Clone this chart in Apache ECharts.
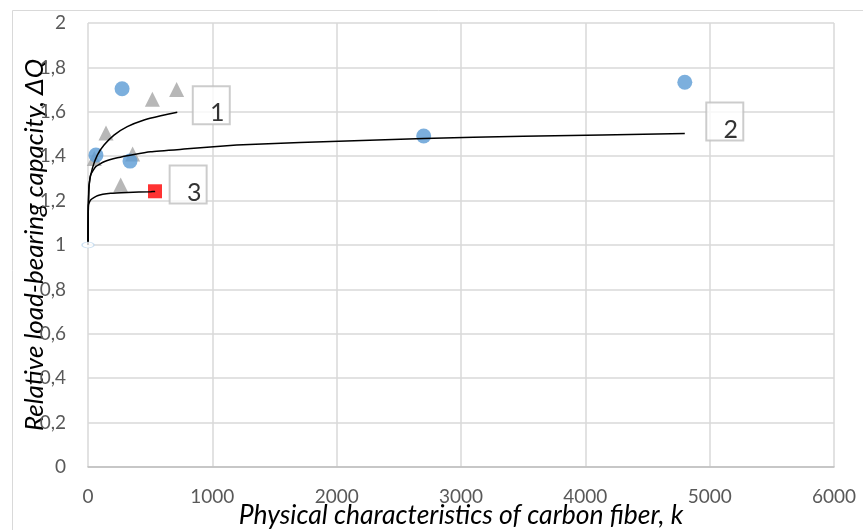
<!DOCTYPE html>
<html><head><meta charset="utf-8">
<script src="https://cdn.jsdelivr.net/npm/echarts@6/dist/echarts.min.js"></script>
<style>html,body{margin:0;padding:0;background:#fff}#c{width:863px;height:530px}</style>
</head><body><div id="c"></div>
<script>
// Data
const xTicks = [0, 1000, 2000, 3000, 4000, 5000, 6000];
const yTicks = [0, 0.2, 0.4, 0.6, 0.8, 1, 1.2, 1.4, 1.6, 1.8, 2];
const blueCircles = [[64, 1.405], [274, 1.704], [338, 1.378], [2700, 1.491], [4800, 1.733]];
const grayTriangles = [[51, 1.39], [145, 1.505], [263, 1.27], [359, 1.41], [518, 1.656], [713, 1.70]];
const redSquares = [[539, 1.242]];
const originPoint = [[0, 1]];
const curve1 = [[0, 1], [1, 1.1], [3, 1.18], [8, 1.27], [35, 1.345], [75, 1.405], [129, 1.45], [209, 1.495], [316, 1.533], [451, 1.563], [585, 1.582], [718, 1.598]];
const curve2 = [[0, 1], [1, 1.1], [3, 1.18], [10, 1.27], [21, 1.315], [62, 1.353], [129, 1.375], [236, 1.393], [370, 1.408], [504, 1.42], [772, 1.432], [1196, 1.45], [1705, 1.462], [2700, 1.48], [3500, 1.49], [4800, 1.502]];
const curve3 = [[0, 1], [1, 1.1], [3, 1.18], [21, 1.203], [75, 1.222], [182, 1.233], [316, 1.237], [504, 1.24], [540, 1.241]];
const curveLabels = ['1', '2', '3'];
const xTitle = 'Physical characteristics of carbon fiber, k';
const yTitle = 'Relative load-bearing capacity, ΔQ';

const chart = echarts.init(document.getElementById('c'), null, {renderer: 'canvas'});
const FONT = 'Lato';
const lineStyle = {color: '#000', width: 1.5};
function curveSeries(data) {
  return {type: 'line', data: data, showSymbol: false, smooth: 0.15,
    lineStyle: lineStyle, z: 3, silent: true};
}
function labelBox(curve, text, offset) {
  const end = curve[curve.length - 1];
  return {type: 'scatter', data: [end], symbol: 'rect', symbolSize: [37, 38], symbolOffset: offset,
    itemStyle: {color: '#fff', borderColor: '#bfbfbf', borderWidth: 2}, z: 4, silent: true,
    label: {show: true, position: 'inside', formatter: text, color: '#000', fontFamily: FONT,
      fontSize: 25, offset: [6, 8]}};
}
const hidden = {axisLine: {show: false}, axisTick: {show: false}, axisLabel: {show: false}, splitLine: {show: false}};
chart.setOption({
  animation: false,
  backgroundColor: '#fff',
  graphic: [{type: 'rect', left: 10, top: 8, shape: {width: 900, height: 600},
    style: {fill: 'none', stroke: '#d9d9d9', lineWidth: 1}, z: -10}],
  grid: {left: 88, right: 29, top: 23, bottom: 63, outerBoundsMode: 'none', containLabel: false},
  xAxis: [{type: 'value', min: xTicks[0], max: xTicks[xTicks.length - 1], interval: 1000,
    axisLine: {show: true, lineStyle: {color: '#bfbfbf', width: 1.5}},
    axisTick: {show: false},
    axisLabel: {fontFamily: FONT, fontSize: 19, color: '#595959', margin: 20,
      formatter: v => String(v)},
    splitLine: {show: true, lineStyle: {color: '#d9d9d9', width: 1.5}}},
    Object.assign({type: 'value', position: 'bottom', min: xTicks[0], max: xTicks[xTicks.length - 1],
      name: xTitle, nameLocation: 'middle', nameGap: 35,
      nameTextStyle: {fontFamily: FONT, fontStyle: 'italic', fontSize: 26.5, color: '#000'}}, hidden)],
  yAxis: [{type: 'value', min: yTicks[0], max: yTicks[yTicks.length - 1], interval: 0.2,
    axisLine: {show: false}, axisTick: {show: false},
    axisLabel: {fontFamily: FONT, fontSize: 19, color: '#595959', margin: 22,
      formatter: v => String(Math.round(v * 10) / 10).replace('.', ',')},
    splitLine: {show: true, lineStyle: {color: '#d9d9d9', width: 1.5}}},
    Object.assign({type: 'value', position: 'left', min: yTicks[0], max: yTicks[yTicks.length - 1],
      name: yTitle, nameLocation: 'middle', nameGap: 40, nameRotate: 90,
      nameTextStyle: {fontFamily: FONT, fontStyle: 'italic', fontSize: 26, color: '#000'}}, hidden)],
  series: [
    curveSeries(curve1), curveSeries(curve2), curveSeries(curve3),
    {type: 'scatter', data: grayTriangles, symbol: 'triangle', symbolSize: 15,
      itemStyle: {color: '#a5a5a5'}, z: 2},
    {type: 'scatter', data: blueCircles, symbol: 'circle', symbolSize: 15,
      itemStyle: {color: '#5b9bd5'}, z: 2},
    {type: 'scatter', data: redSquares, symbol: 'rect', symbolSize: 14,
      itemStyle: {color: '#ff0000'}, z: 2},
    {type: 'scatter', data: originPoint, symbol: 'circle', symbolSize: [12, 6],
      itemStyle: {color: '#fff', borderColor: '#bdd7ee', borderWidth: 1}, z: 5},
    labelBox(curve1, curveLabels[0], [34, -7]),
    labelBox(curve2, curveLabels[1], [40, -12]),
    labelBox(curve3, curveLabels[2], [33, -7])
  ]
});
</script></body></html>
